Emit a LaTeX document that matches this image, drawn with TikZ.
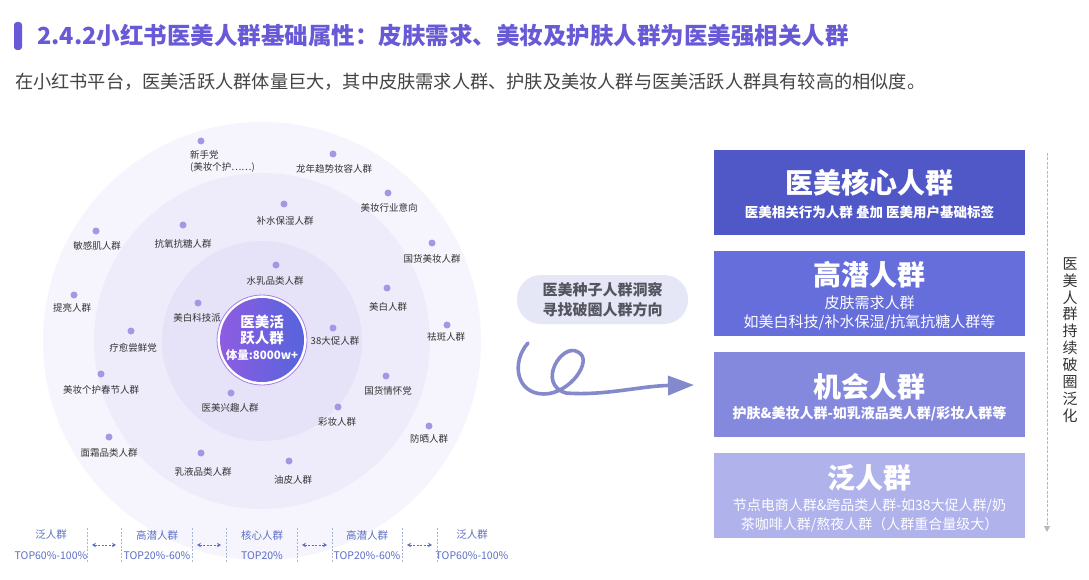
\documentclass[tikz,border=0pt]{standalone}
\usepackage{fontspec}
\setmainfont{Noto Sans CJK SC}
\usetikzlibrary{arrows.meta,positioning}
\definecolor{titlec}{RGB}{104,90,214}
\definecolor{subc}{RGB}{68,68,68}
\definecolor{ringa}{RGB}{246,245,253}
\definecolor{ringb}{RGB}{238,236,251}
\definecolor{ringc}{RGB}{230,227,248}
\definecolor{dotc}{RGB}{165,151,228}
\definecolor{labc}{RGB}{51,51,51}
\definecolor{hubl}{RGB}{142,92,226}
\definecolor{hubr}{RGB}{86,100,220}
\definecolor{tiera}{RGB}{80,88,200}
\definecolor{tierb}{RGB}{101,110,219}
\definecolor{tierc}{RGB}{133,137,222}
\definecolor{tierd}{RGB}{176,178,236}
\definecolor{bubc}{RGB}{229,230,246}
\definecolor{bubt}{RGB}{85,85,95}
\definecolor{squigc}{RGB}{132,137,204}
\definecolor{legc}{RGB}{92,110,196}
\definecolor{sepc}{RGB}{170,180,216}
\definecolor{vtc}{RGB}{51,51,51}
\begin{document}
\begin{tikzpicture}[x=1pt,y=-1pt,>=Stealth,
  pdot/.style={circle,fill=dotc,inner sep=0pt,minimum size=7pt},
  plabel/.style={text=labc,inner sep=0pt,font=\fontsize{9.5}{11.5}\selectfont},
  tierbox/.style={minimum width=311pt,minimum height=85pt,inner sep=0pt},
  tierhead/.style={text=white,inner sep=0pt,font=\bfseries\fontsize{28}{30}\selectfont},
  tiersub/.style={text=white,inner sep=0pt,align=center,font=\fontsize{14}{18.5}\selectfont},
  legtext/.style={text=legc,inner sep=0pt,font=\fontsize{10.5}{12}\selectfont},
  sepline/.style={draw=sepc,dash pattern=on 2pt off 1.5pt,line width=0.6pt},
  legarrow/.style={draw=legc,dash pattern=on 2pt off 1.5pt,line width=0.6pt,{Stealth[length=4pt,width=4.5pt]}-{Stealth[length=4pt,width=4.5pt]}}]
\fill[white] (0,0) rectangle (1089,580);
\useasboundingbox (0,0) rectangle (1089,580);
% heading
\fill[titlec,rounded corners=3pt] (14,22) rectangle (22,50);
\node[anchor=west,inner sep=0pt,text=titlec,font=\bfseries\fontsize{23.5}{26}\selectfont] (title) at (37,36) {2.4.2小红书医美人群基础属性：皮肤需求、美妆及护肤人群为医美强相关人群};
\node[anchor=west,inner sep=0pt,text=subc,font=\fontsize{18.2}{20}\selectfont] (lead) at (15,82) {在小红书平台，医美活跃人群体量巨大，其中皮肤需求人群、护肤及美妆人群与医美活跃人群具有较高的相似度。};
% rings
\fill[ringa] (262,341) circle[radius=219pt];
\fill[ringb] (262,341) circle[radius=168pt];
\fill[ringc] (262,341) circle[radius=100pt];
% tags
\node[pdot] (p0) at (201,141) {};
\node[plabel,anchor=north west,align=left,font=\fontsize{9.5}{12}\selectfont] (l0) at (190,150) {新手党\\(美妆个护⋯⋯)};
\foreach \dx/\dy/\lx/\ly/\txt [count=\k] in {
  333/154/334/169/龙年趋势妆容人群, 388/193/389/208/美妆行业意向,
  284/204/285/221/补水保湿人群, 96/231/97/246/敏感肌人群,
  183/225/183/244/抗氧抗糖人群, 432/243/432/259/国货美妆人群,
  276/265/275/281/水乳品类人群, 387/288/388/307/美白人群,
  74/295/72/308/提亮人群, 198/303/197/318/美白科技派,
  447/325/446/337/祛斑人群, 333/328/335/341/38大促人群,
  131/331/133/348/疗愈尝鲜党, 101/374/101/390/美妆个护春节人群,
  386/376/388/391/国货情怀党, 231/393/230/408/医美兴趣人群,
  338/407/337/422/彩妆人群, 429/426/429/439/防晒人群,
  109/437/109/453/面霜品类人群, 201/453/203/472/乳液品类人群,
  289/461/293/480/油皮人群}{
  \node[pdot] (p\k) at (\dx,\dy) {};
  \node[plabel] (l\k) at (\lx,\ly) {\txt};
}
% hub
\draw[draw=hubl!80,line width=0.8pt,fill=white] (262,340) circle[radius=45pt];
\node[circle,minimum size=84pt,inner sep=0pt,left color=hubl,right color=hubr] (hub) at (262,340) {};
\node[text=white,inner sep=0pt,font=\bfseries\fontsize{14.5}{16}\selectfont] (hubt1) at (262,322) {医美活};
\node[text=white,inner sep=0pt,font=\bfseries\fontsize{14.5}{16}\selectfont] (hubt2) at (262,338) {跃人群};
\node[text=white,inner sep=0pt,font=\bfseries\fontsize{11.5}{13}\selectfont] (hubt3) at (262,355) {体量:8000w+};
% legend
\foreach \cx/\ta/\tb [count=\k] in {51/泛人群/TOP60\%-100\%, 157/高潜人群/TOP20\%-60\%,
  262/核心人群/TOP20\%, 367/高潜人群/TOP20\%-60\%, 472/泛人群/TOP60\%-100\%}{
  \node[legtext] (g\k) at (\cx,535) {\ta};
  \node[legtext] (h\k) at (\cx,556) {\tb};
}
\foreach \a/\b [count=\k] in {87/121,192/226,297/332,402/437}{
  \draw[sepline] (\a,528) -- (\a,562);
  \draw[sepline] (\b,528) -- (\b,562);
  \coordinate (sl\k) at (\a,545);
  \coordinate (sr\k) at (\b,545);
  \draw[legarrow] ([xshift=5pt]sl\k) -- ([xshift=-5pt]sr\k);
}
% seed bubble and arrow
\node[fill=bubc,rounded corners=24pt,minimum width=171pt,minimum height=49pt,inner sep=0pt,align=center,text=bubt,font=\bfseries\fontsize{15}{20}\selectfont] (seed) at (602.5,299.5) {医美种子人群洞察\\寻找破圈人群方向};
\coordinate (q0) at (528,343);
\coordinate (q1) at (544,394);
\coordinate (q2) at (578,352);
\coordinate (q3) at (566,393);
\coordinate (q4) at (694,385);
\draw[squigc,line width=3.6pt,line cap=round,-{Triangle[length=26pt,width=19pt]}] (q0) .. controls (511,362) and (516,394) .. (q1) .. controls (570,394) and (594,360) .. (q2) .. controls (562,342) and (536,384) .. (q3) .. controls (604,396) and (640,386) .. (q4);
% tiers
\node[tierbox,fill=tiera] (core) at (869.5,192.5) {};
\node[tierbox,fill=tierb] (hipo) at (869.5,293.5) {};
\node[tierbox,fill=tierc] (chance) at (869.5,394.5) {};
\node[tierbox,fill=tierd] (broad) at (869.5,495.5) {};
\node[tierhead] (coret) at (869.5,183) {医美核心人群};
\node[tiersub,font=\bfseries\fontsize{13.5}{18.5}\selectfont] (cores) at (869.5,212) {医美相关行为人群 叠加 医美用户基础标签};
\node[tierhead] (hipot) at (869.5,275) {高潜人群};
\node[tiersub,font=\fontsize{15}{18.5}\selectfont] (hipos) at (869.5,313) {皮肤需求人群\\如美白科技/补水保湿/抗氧抗糖人群等};
\node[tierhead] (chancet) at (869.5,387) {机会人群};
\node[tiersub,font=\bfseries\fontsize{14}{18.5}\selectfont] (chances) at (869.5,414) {护肤\&美妆人群-如乳液品类人群/彩妆人群等};
\node[tierhead] (broadt) at (869.5,478) {泛人群};
\node[tiersub] (broads) at (869.5,515.5) {节点电商人群\&跨品类人群-如38大促人群/奶\\茶咖啡人群/熬夜人群（人群重合量级大）};
% spread axis
\coordinate (vtop) at (1047,153);
\coordinate (vbot) at (1047,532);
\draw[gray!55,dash pattern=on 3pt off 1.5pt,line width=0.8pt,-{Triangle[length=6pt,width=6pt]}] (vtop) -- (vbot);
\node[align=center,inner sep=0pt,text=vtc,font=\fontsize{15}{16.9}\selectfont] (vtext) at (1070,340) {医\\美\\人\\群\\持\\续\\破\\圈\\泛\\化};
\end{tikzpicture}
\end{document}
